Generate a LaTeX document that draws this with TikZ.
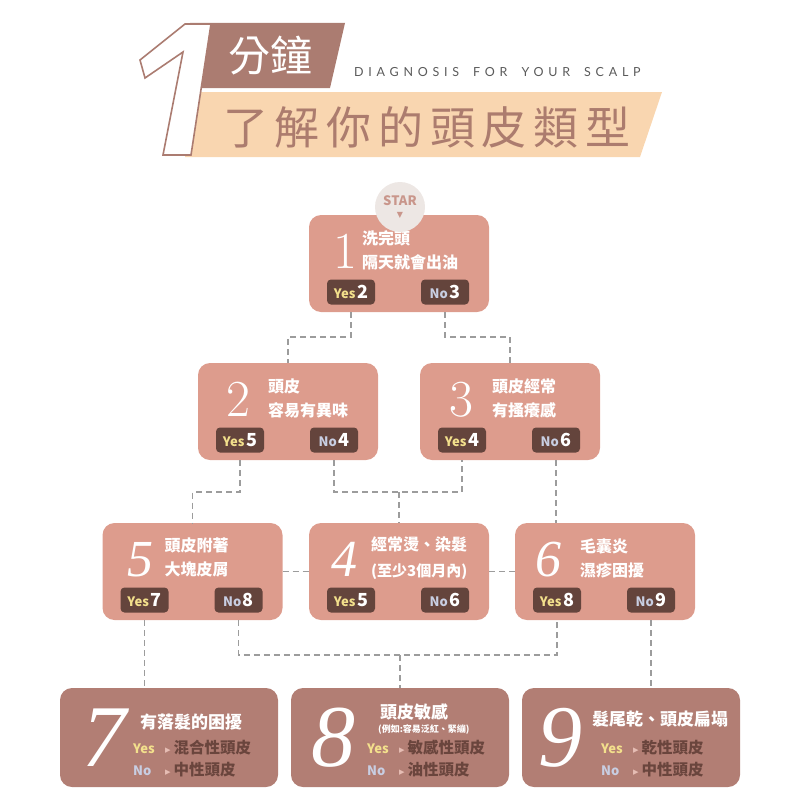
\documentclass[tikz,border=0pt]{standalone}
\usepackage{fontspec}
\usetikzlibrary{positioning}
\newfontfamily\cjk{Noto Sans CJK TC}
\newfontfamily\cjkwide[LetterSpace=15]{Noto Sans CJK TC}
\newfontfamily\latspaced[LetterSpace=38]{Lato}
\newfontfamily\symb{DejaVu Sans}
\newfontfamily\numserif{Liberation Serif}
\definecolor{boxcol}{HTML}{DD9C8D}
\definecolor{rescol}{HTML}{B27E74}
\definecolor{tagcol}{HTML}{64443C}
\definecolor{yescol}{HTML}{F3E08C}
\definecolor{nocol}{HTML}{C8CEE2}
\definecolor{linecol}{HTML}{9C9C9C}
\definecolor{bandcol}{HTML}{AB7C71}
\definecolor{peachcol}{HTML}{F9D6B0}
\definecolor{hdcol}{HTML}{AC7C6E}
\definecolor{starcol}{HTML}{EDE7E4}
\definecolor{startxt}{HTML}{C9968B}
\definecolor{arrcol}{HTML}{E6BDB4}
\definecolor{restxt}{HTML}{6A453D}
\definecolor{diagcol}{HTML}{5A5A5A}
% one answer line in the last row
\newcommand\ansline[3]{\makebox[32pt][l]{\color{#1}\fontsize{13}{13}\selectfont #2}{\color{arrcol}\symb\fontsize{11}{11}\selectfont ▸}\hspace{3pt}{\color{restxt}#3}}

\begin{document}
\begin{tikzpicture}[x=1pt,y=-1pt]
  \tikzset{qbox/.style = {draw=none, fill=boxcol, rounded corners=12pt, minimum width=180pt, minimum height=97pt, inner sep=0pt}}
  \tikzset{rbox/.style = {qbox, fill=rescol, minimum width=218pt, minimum height=99pt}}
  \tikzset{tag/.style = {fill=tagcol, rounded corners=4pt, minimum width=48pt, minimum height=25pt, inner sep=0pt, text=white, font=\cjk\bfseries}}
  \tikzset{link/.style = {draw=linecol, line width=1.4pt, dash pattern=on 6pt off 4pt}}
  \tikzset{bignum/.style = {text=white, inner sep=0pt}}
  \tikzset{qtext/.style = {anchor=west, align=left, text=white, inner sep=0pt, font=\cjk\bfseries\fontsize{16}{24}\selectfont}}
  \tikzset{rtitle/.style = {anchor=west, align=left, text=white, inner sep=0pt, font=\cjk\bfseries\fontsize{17}{17}\selectfont}}
  \tikzset{rline/.style = {anchor=west, inner sep=0pt, font=\cjk\bfseries\fontsize{15.5}{15.5}\selectfont}}

\useasboundingbox (0,0) rectangle (800,800);

% heading
\fill[bandcol] (190,23) -- (345,23) -- (330,88) -- (190,88) -- cycle;
\fill[peachcol] (185,92) -- (662,92) -- (640,157) -- (185,157) -- cycle;
\filldraw[draw=bandcol, fill=white, line width=1.6pt] (185,24) -- (211,24) -- (191,155) -- (163,155) -- (183,52) -- (145,78) -- (140,60) -- cycle;
\node[text=white, inner sep=0pt, font=\cjk\fontsize{42}{42}\selectfont] (mins) at (270,56) {分鐘};
\node[text=diagcol, anchor=west, inner sep=0pt, font=\latspaced\fontsize{12.5}{12.5}\selectfont] (diag) at (354,72) {DIAGNOSIS\hspace{14pt}FOR\hspace{14pt}YOUR\hspace{14pt}SCALP};
\node[text=hdcol, anchor=west, inner sep=0pt, font=\cjkwide\fontsize{45}{45}\selectfont] (title) at (223,127) {了解你的頭皮類型};

% question boxes
\foreach \nm/\cx/\cy/\fs/\dn/\dt/\txt/\ya/\na in {
  1/399/263.5/\upshape/36/53/{洗完頭\\隔天就會出油}/2/3,
  2/288/411.5/\upshape/40/70/{頭皮\\容易有異味}/5/4,
  3/510/411.5/\upshape/41/72/{頭皮經常\\有搔癢感}/4/6,
  5/192.5/571.5/\numserif\itshape/38/62/{頭皮附著\\大塊皮屑}/7/8,
  4/399/571.5/\numserif\itshape/35/62/{經常燙、染髮\\[2pt]{\fontsize{15}{15}\selectfont(至少3個月內)}}/5/6,
  6/605/571.5/\numserif\itshape/33/65/{毛囊炎\\濕疹困擾}/8/9}{
  \node[qbox] (b\nm) at (\cx,\cy) {};
  \node[bignum, font=\fontsize{52}{52}\selectfont\fs] (n\nm) at (\cx-90+\dn,\cy-12) {\nm};
  \node[qtext] (q\nm) at (\cx-90+\dt,\cy-13.5) {\txt};
  \node[tag] (t\nm y) at (\cx-48,\cy+28.5) {{\color{yescol}\fontsize{13}{13}\selectfont Yes}\,\fontsize{18}{18}\selectfont\ya};
  \node[tag] (t\nm n) at (\cx+46,\cy+28.5) {{\color{nocol}\fontsize{13}{13}\selectfont No}\,\fontsize{18}{18}\selectfont\na};
}

\node[circle, fill=starcol, minimum size=50pt, inner sep=0pt, align=center, text=startxt, font=\cjk\bfseries\fontsize{13}{12}\selectfont] (start) at (400,207) {STAR\\{\symb\fontsize{8}{8}\selectfont ▼}};

% result boxes
\node[rbox] (b7) at (169,737.5) {};
\node[bignum, font=\numserif\itshape\fontsize{88}{88}\selectfont] (n7) at (104,738) {7};
\node[rtitle] (h7) at (140,722) {有落髮的困擾};
\node[rline] (y7) at (133,748) {\ansline{yescol}{Yes}{混合性頭皮}};
\node[rline] (o7) at (133,770) {\ansline{nocol}{No}{中性頭皮}};

\node[rbox] (b8) at (400,737.5) {};
\node[bignum, font=\numserif\itshape\fontsize{88}{88}\selectfont] (n8) at (333,738) {8};
\node[rtitle] (h8) at (380,712) {頭皮敏感};
\node[rtitle, font=\cjk\bfseries\fontsize{9}{9}\selectfont] (s8) at (378,730) {(例如:容易泛紅、緊繃)};
\node[rline] (y8) at (367,748) {\ansline{yescol}{Yes}{敏感性頭皮}};
\node[rline] (o8) at (367,770) {\ansline{nocol}{No}{油性頭皮}};

\node[rbox] (b9) at (631,737.5) {};
\node[bignum, font=\numserif\itshape\fontsize{88}{88}\selectfont] (n9) at (560,738) {9};
\node[rtitle] (h9) at (592,719) {髮尾乾、頭皮扁塌};
\node[rline] (y9) at (601,748) {\ansline{yescol}{Yes}{乾性頭皮}};
\node[rline] (o9) at (601,770) {\ansline{nocol}{No}{中性頭皮}};

% connectors
\coordinate (j12) at (0,337);
\coordinate (j23) at (0,492);
\coordinate (j34) at (0,655);

\draw[link] (t1y |- b1.south) |- (b2.north |- j12) -- (b2.north);
\draw[link] (t1n |- b1.south) |- (b3.north |- j12) -- (b3.north);
\draw[link] (t2y |- b2.south) |- (b5.north |- j23) -- (b5.north);
\draw[link] (t2n |- b2.south) |- (t3y |- j23) -- (t3y |- b3.south);
\draw[link] (b4.north |- j23) -- (b4.north);
\draw[link] (t3n |- b3.south) -- (t3n |- b6.north);
\draw[link] (b5.east) -- (b4.west);
\draw[link] (b4.east) -- (b6.west);
\draw[link] (t5y |- b5.south) -- (t5y |- b7.north);
\draw[link] (t5n |- b5.south) |- (t6y |- j34) -- (t6y |- b6.south);
\draw[link] (b8.north |- j34) -- (b8.north);
\draw[link] (t6n |- b6.south) -- (t6n |- b9.north);

\end{tikzpicture}
\end{document}
